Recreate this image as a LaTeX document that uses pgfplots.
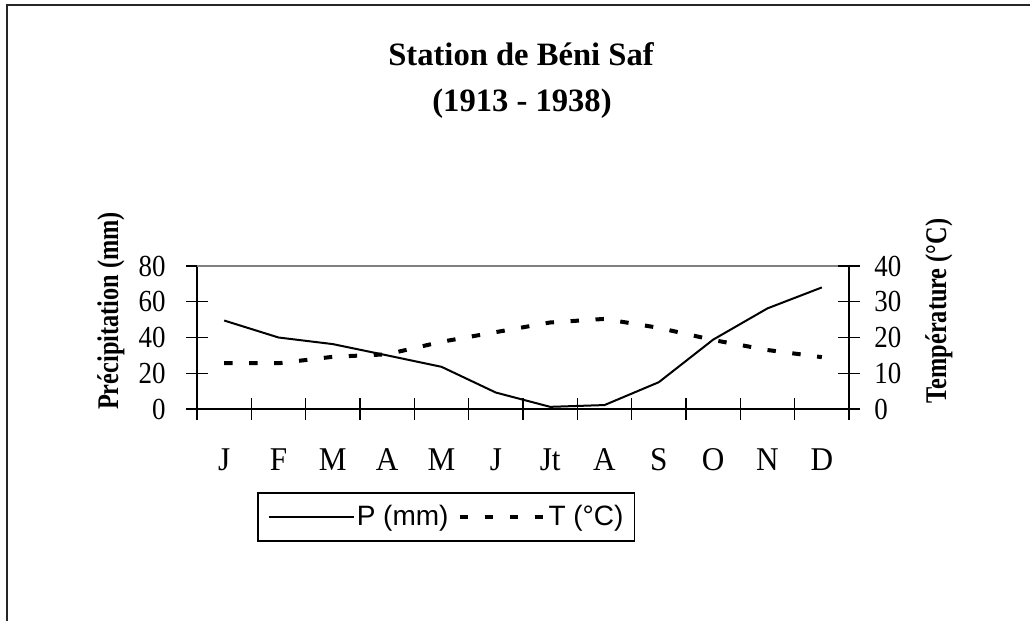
\documentclass[border=0pt]{standalone}
\usepackage{fontspec}
\setmainfont{Liberation Serif}
\newfontfamily\xtfont[FakeStretch=0.94]{Liberation Serif}
\newfontfamily\ytfont[FakeStretch=0.88]{Liberation Serif}
\newfontfamily\labfont[FakeStretch=0.81]{Liberation Serif}
\newfontfamily\legfont{Liberation Sans}
\usepackage{pgfplots}
\pgfplotsset{compat=1.18}
\begin{document}
\begin{tikzpicture}
\path[use as bounding box] (0,0) rectangle (515pt,310.5pt);
\draw[line width=1pt, black!85] (3.5pt,-2pt) -- (3.5pt,308pt) -- (517pt,308pt);
\node[font=\bfseries\fontsize{16.3}{19}\selectfont, anchor=base] at (260.5pt,277.5pt) {Station de Béni Saf};
\node[font=\bfseries\fontsize{16.3}{19}\selectfont, anchor=base] at (261pt,254.5pt) {(1913 - 1938)};
\node[font=\labfont\bfseries\fontsize{15}{16}\selectfont, rotate=90] at (55.5pt,155pt) {Précipitation (mm)};
\node[font=\labfont\bfseries\fontsize{15}{16}\selectfont, rotate=90] at (469.5pt,155pt) {Température (°C)};
\begin{axis}[
  at={(98.5pt,106pt)}, anchor=south west,
  scale only axis, width=326pt, height=71.5pt,
  xmin=0.5, xmax=12.5, ymin=0, ymax=80,
  axis x line*=bottom, axis y line*=left,
  axis line style={-, line width=0.8pt, black},
  xtick={0.5,1.5,...,12.5}, xticklabels={,,,,,,,,,,,,},
  extra x ticks={1,2,...,12},
  extra x tick labels={J,F,M,A,M,J,Jt,A,S,O,N,D},
  extra x tick style={major tick length=0pt},
  ytick={0,20,...,80},
  tick align=center, major tick length=11pt,
  tick style={line width=0.6pt, black},
  /pgf/number format/assume math mode=true,
  xticklabel style={font=\xtfont\fontsize{16.6}{17}\selectfont, anchor=base, inner sep=0pt, yshift=-31pt},
  yticklabel style={font=\ytfont\fontsize{15.3}{16}\selectfont, anchor=east, inner sep=0pt, xshift=-10pt},
  clip=false,
]
\draw[gray, line width=0.8pt] (rel axis cs:0,1) -- (rel axis cs:1,1);
\addplot[black, line width=1pt, mark=none] coordinates {
(1,49.5) (2,40) (3,36.3) (4,30) (5,23.6) (6,9.2) (7,1.2) (8,2.2) (9,15) (10,38.8) (11,56.3) (12,68)};
\end{axis}
\begin{axis}[
  at={(98.5pt,106pt)}, anchor=south west,
  scale only axis, width=326pt, height=71.5pt,
  xmin=0.5, xmax=12.5, ymin=0, ymax=40,
  axis x line=none, axis y line*=right,
  axis line style={-, line width=0.8pt, black},
  ytick={0,10,...,40},
  tick align=center, major tick length=11pt,
  tick style={line width=0.6pt, black},
  /pgf/number format/assume math mode=true,
  yticklabel style={font=\ytfont\fontsize{15.3}{16}\selectfont, anchor=west, inner sep=0pt, xshift=7pt},
  legend style={at={(axis description cs:0.092,-0.5804)}, anchor=north west,
    draw=black, line width=0.8pt, legend columns=2,
    font=\legfont\fontsize{14}{16}\selectfont,
    inner xsep=5pt, inner ysep=5.75pt,
    nodes={inner sep=0.5pt},
    /tikz/every even column/.append style={column sep=4pt},
    /tikz/every odd column/.append style={column sep=0.5pt}},
  legend image code/.code={\draw[#1] (0pt,0pt) -- (42.5pt,0pt);},
  clip=false,
]
\addlegendimage{black, line width=1pt}
\addlegendentry{P (mm)}
\addplot[black, line width=2pt, line cap=butt, dash pattern=on 4.2pt off 8.3pt, mark=none] coordinates {
(1,12.8) (2,12.8) (3,14.6) (4,15.3) (5,18.8) (6,21.5) (7,24.2) (8,25.2) (9,22.7) (10,19.3) (11,16.5) (12,14.5)};
\addlegendentry{T (°C)}
\end{axis}
\end{tikzpicture}
\end{document}
